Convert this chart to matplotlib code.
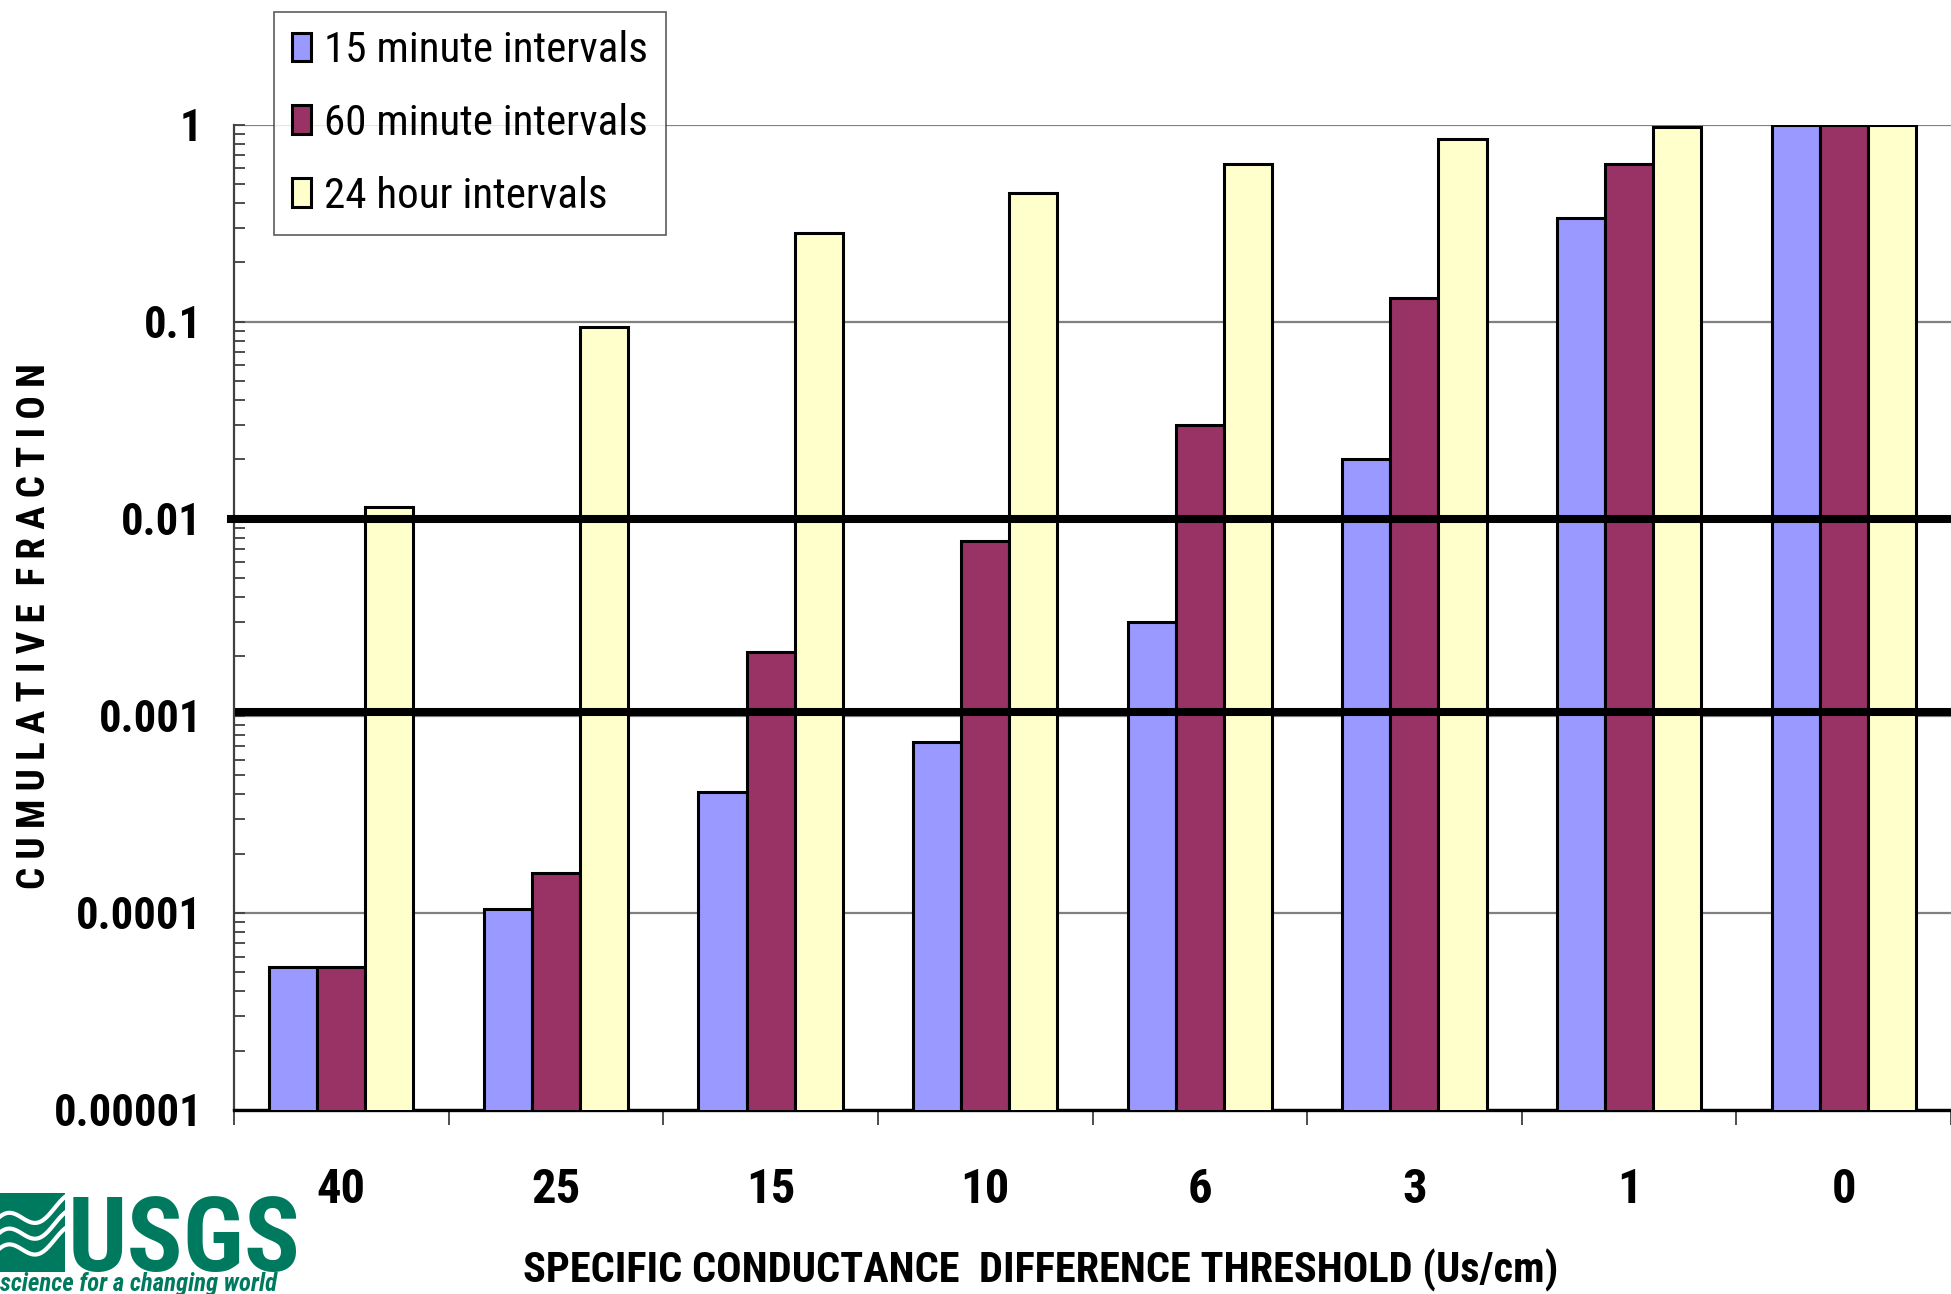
import numpy as np
import matplotlib
matplotlib.use("Agg")
import matplotlib.pyplot as plt
from matplotlib import font_manager
from matplotlib.patches import Rectangle
from matplotlib.ticker import LogLocator, NullFormatter, FixedLocator, FixedFormatter

# threshold categories and cumulative fractions per sampling interval
thresholds = ['40', '25', '15', '10', '6', '3', '1', '0']
frac_15min = [5.3e-5, 1.05e-4, 4.1e-4, 7.4e-4, 3.0e-3, 2.0e-2, 0.336, 1.0]
frac_60min = [5.3e-5, 1.6e-4, 2.1e-3, 7.7e-3, 3.0e-2, 0.131, 0.628, 1.0]
frac_24hr = [0.0115, 0.0935, 0.282, 0.45, 0.628, 0.84, 0.971, 1.0]
series_names = ['15 minute intervals', '60 minute intervals', '24 hour intervals']
ref_levels = [0.01, 0.00104]

# pick a condensed sans if one is installed
installed = {f.name for f in font_manager.fontManager.ttflist}
cond = [n for n in ['Liberation Sans Narrow', 'Arial Narrow', 'Roboto Condensed',
                    'Open Sans Condensed', 'Noto Sans Condensed'] if n in installed]
narrow = cond[:1] + ['Liberation Sans', 'DejaVu Sans']
sz = 1.0 if cond else 0.86
green = '#007a5e'

W, H = 1951, 1294
fig = plt.figure(figsize=(W / 100, H / 100), dpi=100)

left, right, top, bottom = 234, 1951, 124.5, 1110
ax = fig.add_axes([left / W, 1 - bottom / H, (right - left) / W, (bottom - top) / H])

x = np.arange(len(thresholds)) + 0.5
w = 0.224
colors = ['#9999ff', '#993366', '#ffffcc']
for k, (vals, c, name) in enumerate(zip([frac_15min, frac_60min, frac_24hr], colors, series_names)):
    ax.bar(x + (k - 1) * w, vals, width=w, color=c, edgecolor='black',
           linewidth=2.2, label=name, zorder=3)

ax.set_yscale('log', nonpositive='clip')
ax.set_ylim(1e-5, 1)
ax.set_xlim(0, len(thresholds))

# heavy reference lines
ax.axhline(ref_levels[0], xmin=-0.002, xmax=1, color='black', lw=5.8, zorder=5, clip_on=False)
ax.axhline(ref_levels[1], xmin=0.003, xmax=1, color='black', lw=5.8, zorder=5)

ax.yaxis.grid(True, which='major', color='#808080', lw=1.6, zorder=0)
ax.set_axisbelow(True)

ax.yaxis.set_minor_locator(LogLocator(base=10, subs=np.arange(2, 10), numticks=10))
ax.yaxis.set_minor_formatter(NullFormatter())
ax.set_yticks([1e-5, 1e-4, 1e-3, 1e-2, 1e-1, 1])
ax.set_yticklabels(['0.00001', '0.0001', '0.001', '0.01', '0.1', '1'],
                   fontfamily=narrow, fontweight='bold', fontsize=32 * sz)
ax.tick_params(axis='y', which='both', direction='in', length=8, width=1.3,
               color='#404040', pad=23)

ax.xaxis.set_major_locator(FixedLocator(np.arange(len(thresholds) + 1)))
ax.xaxis.set_major_formatter(NullFormatter())
ax.xaxis.set_minor_locator(FixedLocator(x))
ax.xaxis.set_minor_formatter(FixedFormatter(thresholds))
ax.tick_params(axis='x', which='major', direction='out', length=11, width=1.3, color='#404040')
ax.tick_params(axis='x', which='minor', length=0, pad=41, labelsize=35 * sz)
for t in ax.get_xticklabels(minor=True):
    t.set_fontfamily(narrow)
    t.set_fontweight('bold')

for s in ['top', 'right']:
    ax.spines[s].set_visible(False)
ax.spines['left'].set_color('#404040')
ax.spines['left'].set_linewidth(1.6)
ax.spines['bottom'].set_color('black')
ax.spines['bottom'].set_linewidth(2.4)

leg = ax.legend(loc='upper left', bbox_to_anchor=(274 / W, 1 - 12 / H),
                bbox_transform=fig.transFigure, borderaxespad=0, frameon=True, fancybox=False,
                prop={'family': narrow, 'size': 31 * sz}, handlelength=0.45, handleheight=0.65,
                handletextpad=0.3, labelspacing=0.74, borderpad=0.42)
leg.get_frame().set_edgecolor('#333333')
leg.get_frame().set_linewidth(1.2)
leg.set_zorder(10)

fig.text(1041 / W, 1 - 1270 / H, 'SPECIFIC CONDUCTANCE  DIFFERENCE THRESHOLD (Us/cm)',
         ha='center', va='center', fontsize=30.5 * sz, fontweight='bold', family=narrow)

# letter-spaced axis title
hair = '\u200a'
ytitle = (hair * 2).join('CUMULATIVE') + '  ' + (hair * 2).join('FRACTION')
fig.text(34.5 / W, 1 - 626 / H, ytitle, ha='center', va='center', rotation=90,
         fontsize=28 * sz, fontweight='bold', family=narrow)

# USGS logo
fig.text(68 / W, 1 - 1271 / H, 'USGS', ha='left', va='baseline', fontsize=75 * sz,
         fontweight='bold', family=narrow, color=green)
fig.text(0, 1 - 1291 / H, 'science for a changing world', ha='left', va='baseline',
         fontsize=17.8 * sz, fontweight='bold', style='italic', family=narrow, color=green)
lax = fig.add_axes([0, 1 - 1272 / H, 65 / W, 79 / H])
lax.set_xlim(0, 1)
lax.set_ylim(0, 1)
lax.axis('off')
lax.add_patch(Rectangle((0, 0), 1, 1, color=green))
t = np.linspace(0, 1, 100)
for off in [0.2, 0.4, 0.6]:
    lax.plot(t, off + 0.12 * np.sin(t * 2 * np.pi + 1.0) + 0.25 * t, color='white', lw=3)

fig.savefig('out.png', dpi=100)
